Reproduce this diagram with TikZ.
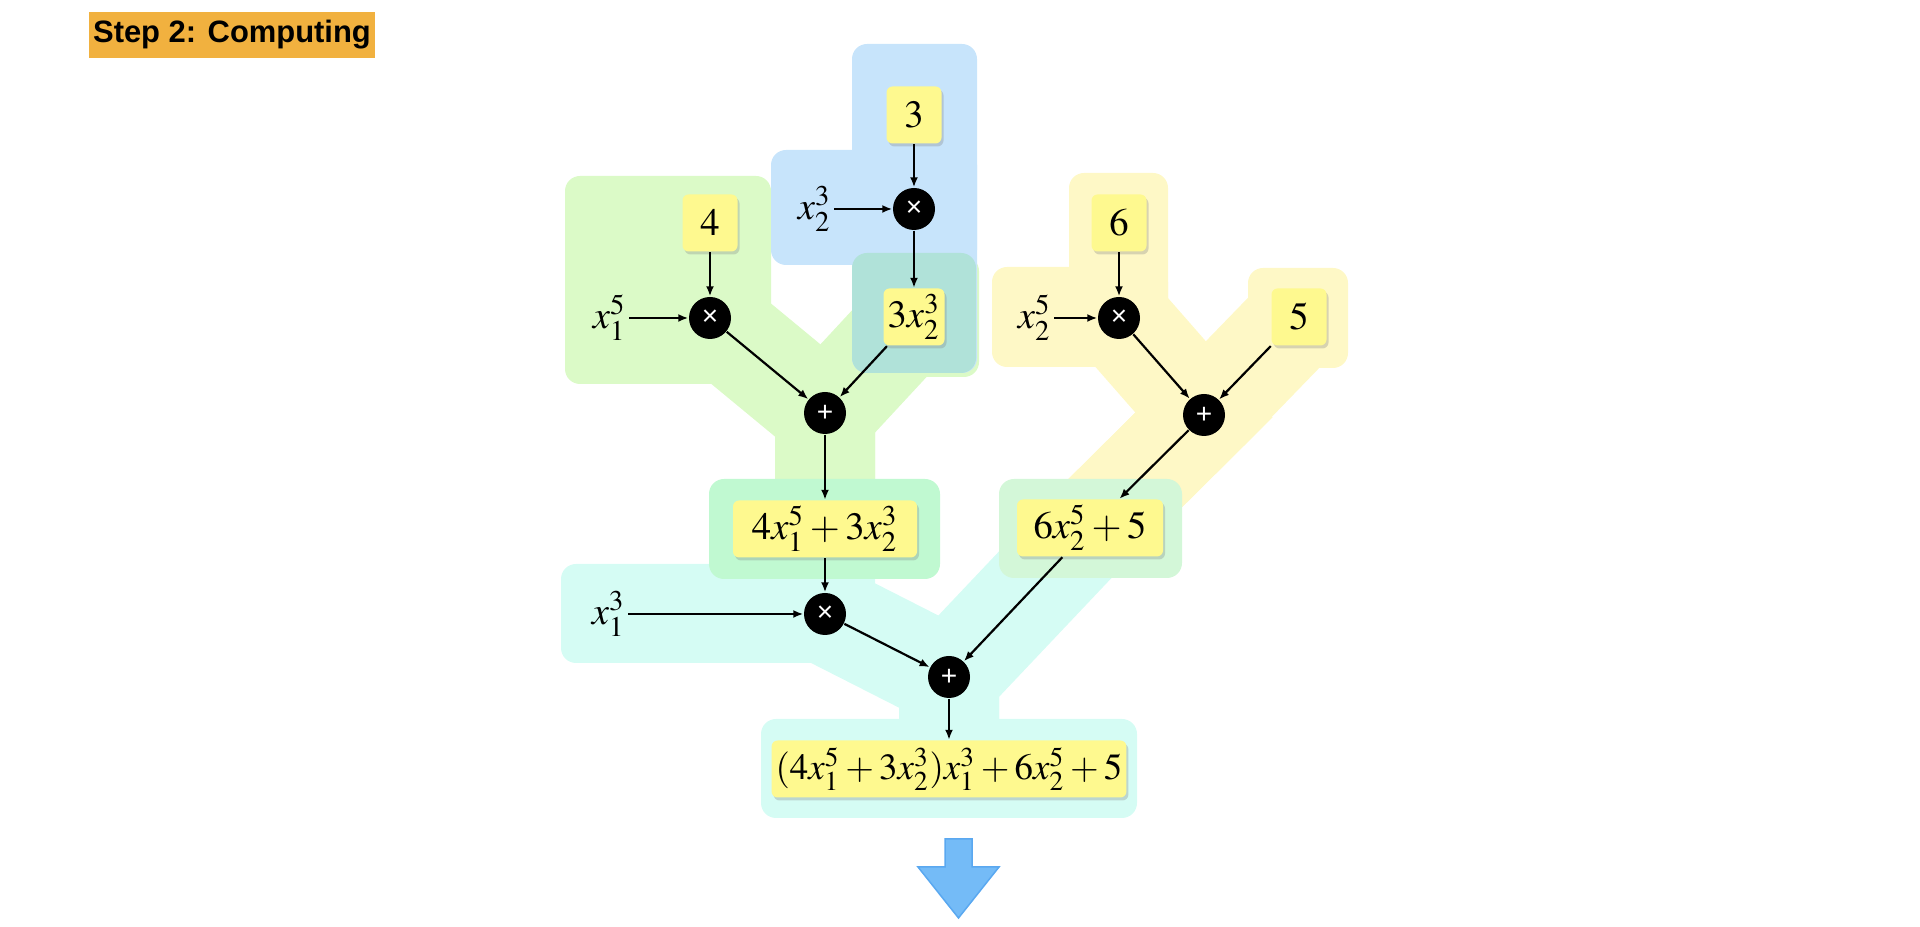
\documentclass[tikz,border=0pt]{standalone}
\usepackage{mathptmx}
\usepackage{fontspec}
\newfontfamily\headfont{Liberation Sans}
\usetikzlibrary{arrows.meta,shadows,backgrounds}

\definecolor{blueBg}{HTML}{C7E4FB}
\definecolor{greenBg}{HTML}{DBFAC7}
\definecolor{tealBg}{HTML}{B0E2D9}
\definecolor{yellowBg}{HTML}{FEF8C6}
\definecolor{cyanBg}{HTML}{D5FCF4}
\definecolor{mintA}{HTML}{C0F9D1}
\definecolor{mintB}{HTML}{D3F7D8}
\definecolor{valYellow}{HTML}{FEF98F}
\definecolor{headOrange}{HTML}{F1B13F}
\definecolor{arrowBlue}{HTML}{74BBF7}
\definecolor{arrowEdge}{HTML}{5AA8F0}

\begin{document}
\begin{tikzpicture}[x=0.1mm, y=-0.1mm,
    valbox/.style={fill=valYellow, rounded corners=0.6mm, minimum height=5.7mm,
        minimum width=5.5mm, inner sep=0.4mm, font=\fontsize{11}{13}\selectfont,
        drop shadow={opacity=0.3, shadow xshift=0.2mm, shadow yshift=-0.3mm}},
    opnode/.style={circle, fill=black, text=white, minimum size=4.2mm, inner sep=0pt,
        font=\headfont\fontsize{8}{8}\selectfont},
    varlab/.style={anchor=east, inner sep=0.2mm, font=\fontsize{11}{13}\selectfont},
    link/.style={-{Latex[length=1mm, width=0.8mm]}, line width=0.22mm},
    band/.style={line width=10mm, line join=miter},
    zone/.style={rounded corners=1.5mm}]
    \useasboundingbox (0,0) rectangle (1920,927);

    % title
    \node[fill=headOrange, minimum width=28.6mm, minimum height=4.6mm, inner sep=0pt,
        font=\headfont\bfseries\fontsize{8.8}{10}\selectfont] (title) at (232,35) {Step 2: Computing};

    % 3 x_2^3
    \node[valbox] (three) at (914,115) {$3$};
    \node[opnode] (mulA) at (914,209) {×};
    \node[varlab] (xa) at (834,209) {$x_2^3$};
    \node[valbox, minimum width=6.1mm] (threex) at (914,317) {$3x_2^3$};

    % 4 x_1^5
    \node[valbox] (four) at (710,223) {$4$};
    \node[opnode] (mulB) at (710,318) {×};
    \node[varlab] (xb) at (629,318) {$x_1^5$};
    \node[opnode] (addA) at (825,413) {+};
    \node[valbox, minimum width=18.4mm] (sumA) at (825,529) {$4x_1^5+3x_2^3$};

    % 6 x_2^5 + 5
    \node[valbox] (six) at (1119,223) {$6$};
    \node[opnode] (mulC) at (1119,318) {×};
    \node[varlab] (xc) at (1054,318) {$x_2^5$};
    \node[valbox] (five) at (1299,317) {$5$};
    \node[opnode] (addB) at (1204,415) {+};
    \node[valbox, minimum width=14.6mm] (sumB) at (1090,528) {$6x_2^5+5$};

    % last step
    \node[opnode] (mulD) at (825,614) {×};
    \node[varlab] (xd) at (628,614) {$x_1^3$};
    \node[opnode] (addC) at (949,677) {+};
    \node[valbox, minimum width=34.8mm, font=\fontsize{10.5}{13}\selectfont] (result) at (949,769)
        {$(4x_1^5+3x_2^3)x_1^3+6x_2^5+5$};

    \draw[link] (three) -- (mulA);
    \draw[link] (xa) -- (mulA);
    \draw[link] (mulA) -- (threex);
    \draw[link] (four) -- (mulB);
    \draw[link] (xb) -- (mulB);
    \draw[link] (mulB) -- (addA);
    \draw[link] (threex) -- (addA);
    \draw[link] (addA) -- (sumA);
    \draw[link] (six) -- (mulC);
    \draw[link] (xc) -- (mulC);
    \draw[link] (mulC) -- (addB);
    \draw[link] (five) -- (addB);
    \draw[link] (addB) -- (sumB);
    \draw[link] (sumA) -- (mulD);
    \draw[link] (xd) -- (mulD);
    \draw[link] (mulD) -- (addC);
    \draw[link] (sumB) -- (addC);
    \draw[link] (addC) -- (result);

    % shaded zones behind the graph
    \begin{scope}[on background layer]
        \fill[yellowBg, zone] (1069,173) rectangle (1168,367);
        \fill[yellowBg, zone] (992,267) rectangle (1168,367);
        \fill[yellowBg, zone] (1248,268) rectangle (1348,368);
        \draw[band, yellowBg] (mulC.center) -- (addB.center) -- (sumB.center);
        \draw[band, yellowBg] (five.center) -- (addB.center) -- (sumB.center);

        \fill[cyanBg, zone] (561,564) rectangle (875,663);
        \fill[cyanBg, zone] (761,719) rectangle (1137,818);
        \draw[band, cyanBg] (mulD.center) -- (addC.center) -- (result.center);
        \draw[band, cyanBg] (sumB.center) -- (addC.center) -- (result.center);

        \fill[greenBg, zone] (565,176) rectangle (771,384);
        \fill[greenBg, zone] (854,256) rectangle (979,377);
        \draw[band, greenBg] (mulB.center) -- (addA.center) -- (sumA.center);
        \draw[band, greenBg] (threex.center) -- (addA.center) -- (sumA.center);

        \fill[blueBg, zone] (852,44) rectangle (977,373);
        \fill[blueBg, zone] (771,150) rectangle (977,265);
        \fill[tealBg, zone] (852,253) rectangle (976,373);

        \fill[mintA, zone] (709,479) rectangle (940,579);
        \fill[mintB, zone] (999,479) rectangle (1182,578);
    \end{scope}

    % arrow to the next step
    \filldraw[fill=arrowBlue, draw=arrowEdge, line width=0.15mm] (945,839) -- (972,839) -- (972,867)
        -- (999,867) -- (958.5,918) -- (918,867) -- (945,867) -- cycle;
\end{tikzpicture}
\end{document}
